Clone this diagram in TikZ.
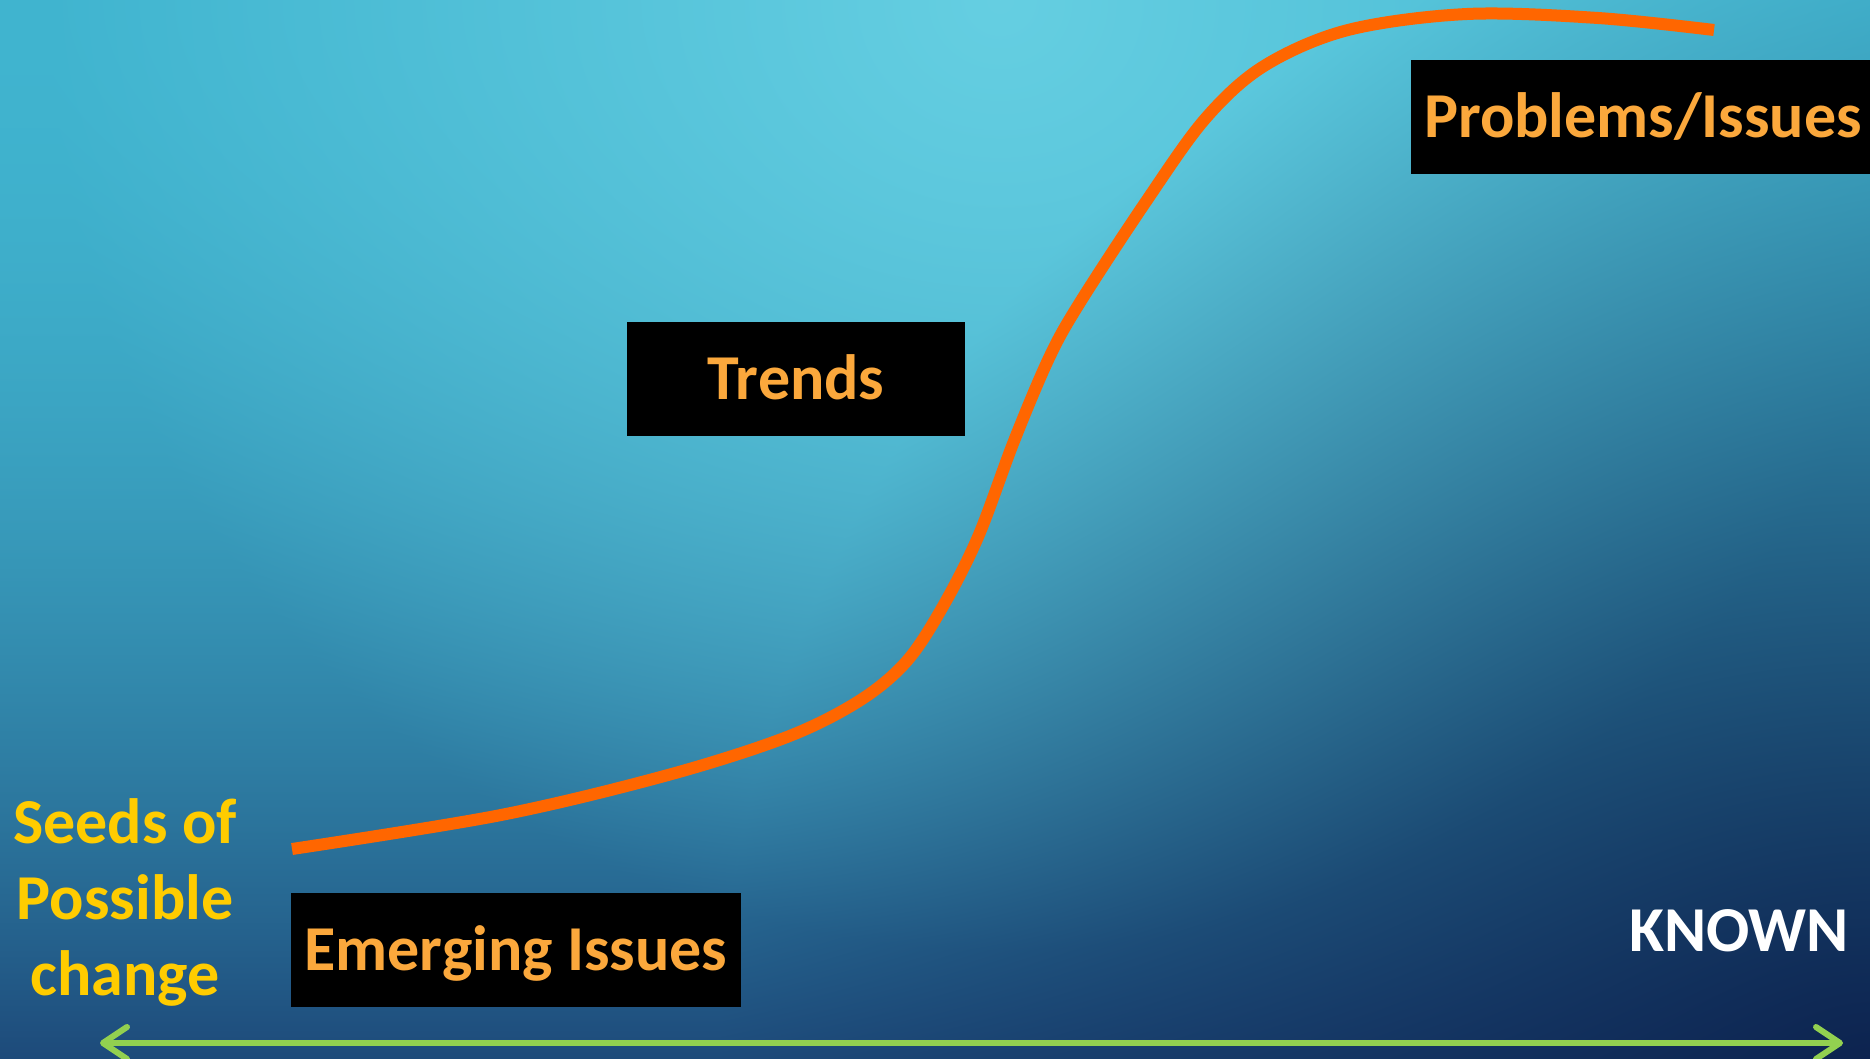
\documentclass[tikz,border=0pt]{standalone}
\usepackage{fontspec}
\setmainfont{Carlito}
\usetikzlibrary{arrows.meta}
\definecolor{boxorange}{HTML}{FBA83C}
\definecolor{seedyellow}{HTML}{FFCC00}
\definecolor{curveorange}{HTML}{FF6600}
\definecolor{arrowgreen}{HTML}{92D050}
\newcommand\bigfont{\fontsize{64}{76}\selectfont\bfseries}
\pgfdeclarefunctionalshading{bgfun}{\pgfpointorigin}{\pgfpoint{100bp}{100bp}}{}{
exch 25 sub 37.4 mul exch 75 exch sub 21.18 mul
1 index 1000 sub dup mul 1 index dup mul add sqrt
950 div 1 exch sub dup 0 lt {pop 0} if 0.88 mul
2 index 1870 exch sub dup mul 2 index 1059 exch sub dup mul add sqrt
1150 div 1 exch sub dup 0 lt {pop 0} if 0.72 mul
2 index 1059 div dup mul
5 -2 roll pop pop
dup -0.137 mul 0.251 add 3 index 1 index 0.416 exch sub mul add 2 index 1 index 0.024 exch sub mul add 4 1 roll
dup -0.416 mul 0.706 add 3 index 1 index 0.824 exch sub mul add 2 index 1 index 0.078 exch sub mul add 4 1 roll
dup -0.334 mul 0.812 add 3 index 1 index 0.894 exch sub mul add 2 index 1 index 0.247 exch sub mul add 4 1 roll
pop pop pop
}
\tikzset{
  labelbox/.style={fill=black, text=boxorange, font=\bigfont, text height=41pt, text depth=0pt, inner sep=0pt, minimum height=114pt},
  curveline/.style={draw=curveorange, line width=12pt},
  axisline/.style={draw=arrowgreen, line width=6pt, line cap=round,
    {Straight Barb[length=24pt,width=32pt,line cap=round,line join=round]}-{Straight Barb[length=24pt,width=32pt,line cap=round,line join=round]}},
}
\begin{document}
\begin{tikzpicture}[x=1pt,y=-1pt]
\useasboundingbox (0,0) rectangle (1870,1059);
\shade[shading=bgfun] (0,0) rectangle (1870,1059);

\draw[curveline] plot[smooth, tension=0.55] coordinates {(292,849) (501,815) (668,775) (787,737) (859,701) (906,662) (942,608) (978,537) (1014,441) (1049,358) (1079,304) (1145,203) (1205,119) (1264,66) (1348,30) (1467,14) (1598,18) (1714,30)};

\node[labelbox, minimum width=450pt] (emerging) at (516,950) {Emerging Issues};
\node[labelbox, minimum width=338pt] (trends) at (796,379) {Trends};
\node[labelbox, minimum width=464pt] (problems) at (1643,117.5) {Problems/Issues};
\node[font=\bigfont, text=seedyellow, align=center, inner sep=0pt] (seeds) at (125,902) {Seeds of\\Possible\\change};
\node[font=\bigfont, text=white, anchor=base, inner sep=0pt] (known) at (1739,951) {KNOWN};

\coordinate (L) at (100,1043);
\coordinate (R) at (1843,1043);
\draw[axisline] (L) -- (R);
\end{tikzpicture}
\end{document}
